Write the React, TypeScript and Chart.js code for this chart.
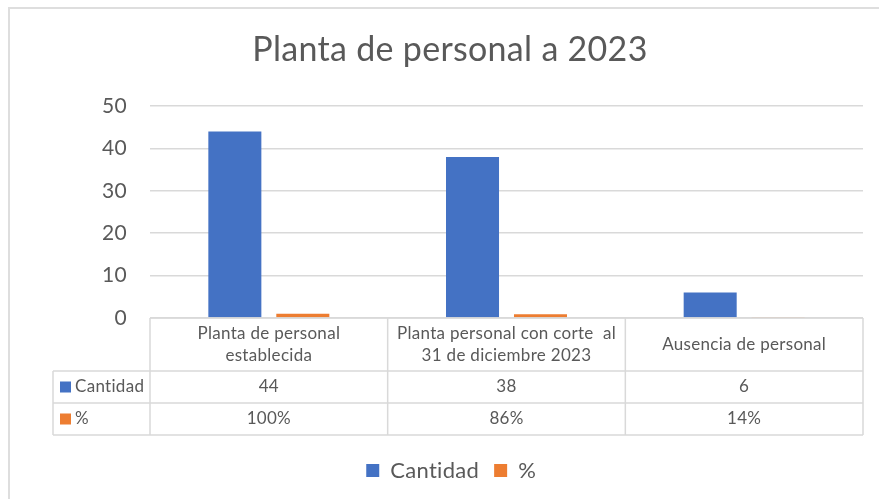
import { useEffect, useRef } from 'react';
import { Chart, registerables } from 'chart.js';

Chart.register(...registerables);

const categories: string[][] = [
  ['Planta de personal', 'establecida'],
  ['Planta personal con corte  al', '31 de diciembre 2023'],
  ['Ausencia de personal'],
];
const seriesNames = ['Cantidad', '%'];
const cantidad = [44, 38, 6];
const porcentaje = [1, 0.86, 0.14];
const yMin = 0;
const yMax = 50;
const yStep = 10;
const seriesColors = ['#4472C4', '#ED7D31'];

const TEXT = '#595959';
const LINE = '#d9d9d9';
const FONT = 'Lato, "Open Sans", sans-serif';

const fmtPct = (v: number) => `${Math.round(v * 100)}%`;

const spacingPlugin = {
  id: 'noLigatures',
  beforeDraw(chart: any) {
    try {
      chart.ctx.letterSpacing = '0.3px';
    } catch (e) {
      /* ignore */
    }
  },
};

const tablePlugin = {
  id: 'dataTable',
  afterDraw(chart: any) {
    const { ctx, chartArea, scales } = chart;
    const xs = scales.x;
    const top = chartArea.bottom;
    const headerH = 53;
    const rowH = 32;
    const left = chartArea.left;
    const right = chartArea.right;
    const keyLeft = left - 97;
    const n = categories.length;
    const colW = (right - left) / n;
    const bottom = top + headerH + 2 * rowH;

    ctx.save();
    ctx.strokeStyle = LINE;
    ctx.lineWidth = 1.5;
    ctx.beginPath();
    for (let i = 0; i <= n; i++) {
      const X = left + i * colW;
      ctx.moveTo(X, top);
      ctx.lineTo(X, bottom);
    }
    ctx.moveTo(keyLeft, top + headerH);
    ctx.lineTo(keyLeft, bottom);
    ctx.moveTo(left, top);
    ctx.lineTo(right, top);
    for (let r = 0; r < 3; r++) {
      const Y = top + headerH + r * rowH;
      ctx.moveTo(keyLeft, Y);
      ctx.lineTo(right, Y);
    }
    ctx.stroke();

    try {
      ctx.letterSpacing = '0.3px';
    } catch (e) {
      /* ignore */
    }
    ctx.fillStyle = TEXT;
    ctx.font = `17px ${FONT}`;
    ctx.textAlign = 'center';
    ctx.textBaseline = 'middle';
    const lineH = 22;
    categories.forEach((lines, i) => {
      const cx = xs.getPixelForValue(i);
      const startY = top + headerH / 2 - ((lines.length - 1) * lineH) / 2;
      lines.forEach((t, j) => ctx.fillText(t, cx, startY + j * lineH));
    });

    const rows = [cantidad.map((v) => String(v)), porcentaje.map(fmtPct)];
    rows.forEach((vals, r) => {
      const cy = top + headerH + r * rowH + rowH / 2;
      vals.forEach((t, i) => {
        ctx.textAlign = 'center';
        ctx.fillStyle = TEXT;
        ctx.fillText(t, xs.getPixelForValue(i), cy);
      });
      ctx.fillStyle = seriesColors[r];
      ctx.fillRect(keyLeft + 7, cy - 5.5, 11, 11);
      ctx.fillStyle = TEXT;
      ctx.textAlign = 'left';
      ctx.fillText(seriesNames[r], keyLeft + 22, cy);
    });
    ctx.restore();
  },
};

export default function App() {
  const ref = useRef<HTMLCanvasElement>(null);

  useEffect(() => {
    let chart: Chart | null = null;
    let cancelled = false;
    const build = () => {
      if (cancelled || !ref.current) return;
      Chart.defaults.font.family = FONT;
      chart = new Chart(ref.current, {
        type: 'bar',
        data: {
          labels: categories.map((l) => l.join(' ')),
          datasets: [
            {
              label: seriesNames[0],
              data: cantidad,
              backgroundColor: seriesColors[0],
              categoryPercentage: 0.572,
              barPercentage: 0.78,
            },
            {
              label: seriesNames[1],
              data: porcentaje,
              backgroundColor: seriesColors[1],
              categoryPercentage: 0.572,
              barPercentage: 0.78,
            },
          ],
        },
        options: {
          responsive: false,
          animation: false,
          layout: { padding: { left: 37, right: 16, top: 0, bottom: 7.5 } },
          plugins: {
            title: {
              display: true,
              text: 'Planta de personal a 2023',
              color: TEXT,
              font: { size: 34, weight: 'normal', family: FONT, lineHeight: 1.2 },
              padding: { top: 29.6, bottom: 35.6 },
            },
            legend: {
              position: 'bottom',
              labels: {
                boxWidth: 13,
                boxHeight: 13,
                padding: 15,
                color: TEXT,
                font: { size: 22, family: FONT },
              },
            },
            tooltip: { enabled: false },
          },
          scales: {
            x: {
              grid: { display: false },
              border: { display: false },
              ticks: { display: false },
              afterFit: (s: any) => {
                s.height = 126.5;
              },
            },
            y: {
              min: yMin,
              max: yMax,
              ticks: {
                stepSize: yStep,
                color: TEXT,
                padding: 23,
                font: { size: 21, family: FONT },
              },
              grid: { color: LINE, lineWidth: 1.5, drawTicks: false },
              border: { display: false },
              afterFit: (s: any) => {
                s.width = 113;
              },
            },
          },
        },
        plugins: [spacingPlugin, tablePlugin],
      });
    };
    const fonts = (document as any).fonts;
    if (fonts && fonts.load) {
      Promise.all([fonts.load(`17px ${FONT}`), fonts.load(`34px ${FONT}`)])
        .catch(() => null)
        .then(build);
    } else {
      build();
    }
    return () => {
      cancelled = true;
      if (chart) chart.destroy();
    };
  }, []);

  return (
    <div style={{ position: 'fixed', left: 0, top: 0, width: 879, height: 499, background: '#fff', overflow: 'hidden' }}>
      <div
        style={{
          position: 'absolute',
          left: 8,
          top: 7,
          width: 900,
          height: 600,
          border: '2px solid #dedede',
          boxSizing: 'border-box',
        }}
      />
      <canvas ref={ref} width={879} height={499} style={{ position: 'absolute', left: 0, top: 0 }} />
    </div>
  );
}
